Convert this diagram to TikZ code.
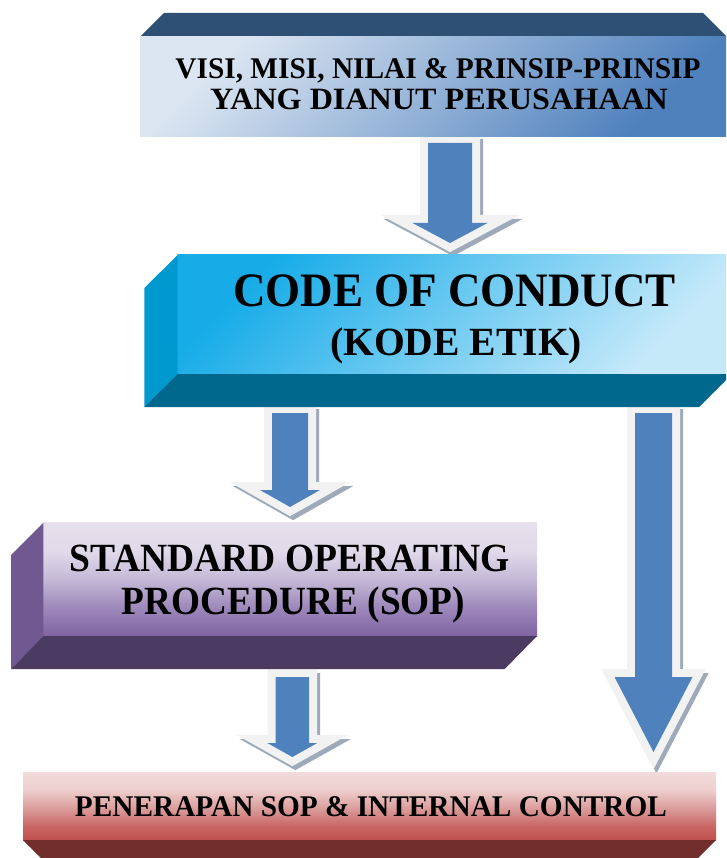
\documentclass[tikz,border=0pt]{standalone}
\usepackage{fontspec}
\setmainfont{Liberation Serif}
\usepackage{graphicx}

\definecolor{bAtop}{HTML}{2F5075}
\definecolor{bAlight}{HTML}{DCE6F2}
\definecolor{bAdark}{HTML}{4F81BD}
\definecolor{bBcyan}{HTML}{17ACE8}
\definecolor{bBlight}{HTML}{C6E9FA}
\definecolor{bBleft}{HTML}{0099CF}
\definecolor{bBbot}{HTML}{00678D}
\definecolor{bCtop}{HTML}{E5E0EC}
\definecolor{bCh}{HTML}{E0D9E9}
\definecolor{bCm}{HTML}{C5B9D7}
\definecolor{bCq}{HTML}{9B86B9}
\definecolor{bCbot}{HTML}{8064A2}
\definecolor{bCleft}{HTML}{705890}
\definecolor{bCunder}{HTML}{4B3B62}
\definecolor{bDtop}{HTML}{F2DCDB}
\definecolor{bDh}{HTML}{EDCFCE}
\definecolor{bDm}{HTML}{DDA3A2}
\definecolor{bDq}{HTML}{C96664}
\definecolor{bDbot}{HTML}{C0504D}
\definecolor{bDunder}{HTML}{722E2D}
\definecolor{arrowblue}{HTML}{4F81BD}
\definecolor{framec}{HTML}{F2F2F2}
\definecolor{shadowc}{HTML}{9EAABA}

\pgfdeclareverticalshading{sopshade}{100bp}{color(0bp)=(bCbot); color(25bp)=(bCbot); color(37bp)=(bCq); color(50bp)=(bCm); color(62bp)=(bCh); color(75bp)=(bCtop); color(100bp)=(bCtop)}
\pgfdeclareverticalshading{penshade}{100bp}{color(0bp)=(bDbot); color(25bp)=(bDbot); color(35bp)=(bDq); color(50bp)=(bDm); color(62bp)=(bDh); color(75bp)=(bDtop); color(100bp)=(bDtop)}

\newcommand\fitline[3]{\resizebox{#1pt}{\height}{\fontsize{#2pt}{#2pt}\selectfont\bfseries #3}}

% cx, shaft half width, top, head base, head half width, tip
\newcommand\blockarrow[6]{%
  \filldraw[arrshadow, shift={(3,4)}] ({#1-#2},#3) -- ({#1+#2},#3) -- ({#1+#2},#4) -- ({#1+#5},#4) -- (#1,#6) -- ({#1-#5},#4) -- ({#1-#2},#4) -- cycle;
  \filldraw[arrframe] ({#1-#2},#3) -- ({#1+#2},#3) -- ({#1+#2},#4) -- ({#1+#5},#4) -- (#1,#6) -- ({#1-#5},#4) -- ({#1-#2},#4) -- cycle;
  \fill[arrowblue] ({#1-#2},#3) -- ({#1+#2},#3) -- ({#1+#2},#4) -- ({#1+#5},#4) -- (#1,#6) -- ({#1-#5},#4) -- ({#1-#2},#4) -- cycle;
}

\tikzset{
  arrshadow/.style={fill=shadowc, draw=shadowc, line width=16pt, line join=miter},
  arrframe/.style={fill=arrowblue, draw=framec, line width=16pt, line join=miter},
  label/.style={anchor=base, inner sep=0pt, text=black},
}

\begin{document}
\begin{tikzpicture}[x=1pt, y=-1pt]
\useasboundingbox (0,0) rectangle (726,858);
\clip (0,0) rectangle (726,858);

% arrows
\blockarrow{450}{22}{143}{223}{37.5}{243}
\blockarrow{290}{18}{413}{490}{30}{507}
\blockarrow{292.3}{16.7}{677}{743}{25}{757}
\blockarrow{653.5}{18.5}{413}{677}{39}{752}

% box 1: visi misi
\fill[bAtop] (140,37) -- (164,13) -- (703,13) -- (727,37) -- cycle;
\shade[top color=bAlight, bottom color=bAdark, shading angle=45] (140,37) rectangle (727,136.7);
\node[label] (visiA) at (438,78.3) {\fitline{525}{30}{VISI, MISI, NILAI \& PRINSIP-PRINSIP}};
\node[label] (visiB) at (439,110) {\fitline{458}{31}{YANG DIANUT PERUSAHAAN}};

% box 2: code of conduct
\shade[top color=bBcyan, bottom color=bBlight, shading angle=45] (177.7,255) rectangle (732,374);
\fill[bBleft] (177.7,255) -- (144.3,288) -- (144.3,407) -- (177.7,374) -- cycle;
\fill[bBbot] (144.3,407) -- (177.7,374) -- (732,374) -- (699,407) -- cycle;
\node[label] (codeA) at (454.5,306.7) {\fitline{443}{48}{CODE OF CONDUCT}};
\node[label] (codeB) at (456,355) {\fitline{252}{40}{(KODE ETIK)}};

% box 3: SOP
\shade[shading=sopshade] (43.3,522.7) rectangle (537,636);
\fill[bCleft] (43.3,522.7) -- (11,555) -- (11,669) -- (43.3,636) -- cycle;
\fill[bCunder] (11,669) -- (43.3,636) -- (537,636) -- (504.7,669) -- cycle;
\node[label] (sopA) at (290,571.7) {\fitline{440}{40}{STANDARD OPERATING}};
\node[label] (sopB) at (293.5,614) {\fitline{343}{40}{PROCEDURE (SOP)}};

% box 4: penerapan
\shade[shading=penshade] (23,772) rectangle (716,840);
\fill[bDunder] (23,840) -- (716,840) -- (693,863) -- (46,863) -- cycle;
\node[label] (pen) at (371,816) {\fitline{592}{30}{PENERAPAN SOP \& INTERNAL CONTROL}};
\end{tikzpicture}
\end{document}
